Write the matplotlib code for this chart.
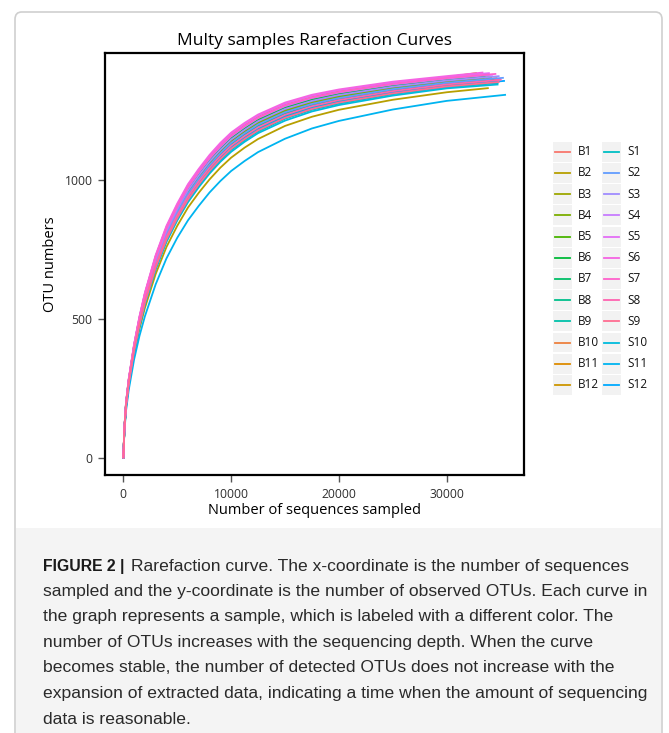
import numpy as np
import matplotlib.pyplot as plt
from matplotlib.patches import Rectangle, FancyBboxPatch
from matplotlib.lines import Line2D

# sequencing depth grid shared by all curves (last point is per-sample)
seq_grid = [0, 100, 250, 500, 1000, 1500, 2000, 3000, 4000, 5000, 6000, 7000,
            8000, 9000, 10000, 11250, 12500, 15000, 17500, 20000, 25000, 30000]

otu_b1 = [0, 106, 191, 273, 394, 489, 570, 699, 800, 878, 946, 1000, 1050, 1092, 1129, 1164, 1195, 1239, 1270, 1291, 1323, 1346]
otu_b10 = [0, 106, 193, 275, 396, 493, 574, 704, 806, 884, 953, 1007, 1056, 1099, 1136, 1171, 1201, 1246, 1276, 1297, 1328, 1351]
otu_b11 = [0, 109, 198, 283, 407, 506, 591, 725, 829, 909, 978, 1033, 1083, 1126, 1163, 1198, 1228, 1271, 1300, 1319, 1348, 1369]
otu_b12 = [0, 105, 190, 271, 391, 486, 565, 693, 794, 872, 940, 993, 1043, 1085, 1122, 1157, 1188, 1233, 1264, 1285, 1318, 1342]
otu_b2 = [0, 100, 181, 259, 374, 465, 540, 662, 759, 835, 901, 954, 1002, 1044, 1080, 1116, 1147, 1194, 1227, 1252, 1288, 1315]
otu_b3 = [0, 107, 194, 277, 399, 496, 578, 709, 812, 890, 959, 1013, 1063, 1106, 1142, 1178, 1208, 1252, 1282, 1302, 1333, 1355]
otu_b4 = [0, 107, 193, 276, 398, 495, 576, 707, 809, 888, 956, 1011, 1060, 1103, 1140, 1175, 1205, 1249, 1279, 1300, 1331, 1353]
otu_b5 = [0, 108, 196, 280, 403, 502, 585, 717, 821, 900, 969, 1024, 1074, 1117, 1153, 1189, 1219, 1262, 1291, 1311, 1341, 1362]
otu_b6 = [0, 108, 196, 279, 402, 500, 582, 714, 817, 897, 966, 1020, 1070, 1112, 1149, 1184, 1215, 1259, 1288, 1308, 1338, 1360]
otu_b7 = [0, 106, 192, 274, 395, 490, 571, 701, 802, 881, 949, 1003, 1052, 1095, 1131, 1167, 1197, 1242, 1272, 1293, 1325, 1348]
otu_b8 = [0, 105, 190, 272, 392, 488, 568, 696, 798, 876, 943, 997, 1047, 1089, 1126, 1161, 1192, 1236, 1267, 1289, 1321, 1345]
otu_b9 = [0, 104, 189, 270, 389, 483, 563, 690, 791, 868, 936, 989, 1039, 1081, 1118, 1153, 1184, 1229, 1260, 1282, 1315, 1339]
otu_s1 = [0, 103, 187, 267, 385, 479, 557, 683, 782, 860, 927, 980, 1029, 1071, 1108, 1143, 1174, 1220, 1252, 1274, 1308, 1333]
otu_s10 = [0, 103, 185, 265, 383, 475, 553, 678, 777, 854, 920, 974, 1023, 1065, 1101, 1137, 1168, 1213, 1246, 1269, 1303, 1329]
otu_s11 = [0, 95, 170, 245, 355, 440, 510, 625, 718, 792, 855, 907, 955, 996, 1032, 1068, 1100, 1148, 1185, 1212, 1253, 1284]
otu_s12 = [0, 104, 188, 269, 388, 482, 561, 688, 788, 866, 933, 987, 1036, 1078, 1115, 1150, 1181, 1226, 1258, 1280, 1313, 1337]
otu_s2 = [0, 106, 192, 274, 395, 491, 572, 702, 803, 882, 950, 1004, 1054, 1096, 1133, 1168, 1199, 1243, 1273, 1294, 1326, 1349]
otu_s3 = [0, 107, 195, 278, 400, 497, 580, 711, 814, 893, 962, 1016, 1066, 1108, 1145, 1180, 1211, 1255, 1284, 1305, 1335, 1357]
otu_s4 = [0, 109, 197, 281, 405, 503, 587, 720, 823, 903, 972, 1027, 1077, 1119, 1156, 1191, 1222, 1265, 1294, 1314, 1343, 1364]
otu_s5 = [0, 110, 199, 284, 408, 508, 592, 727, 831, 911, 981, 1036, 1086, 1129, 1166, 1201, 1231, 1274, 1302, 1322, 1350, 1370]
otu_s6 = [0, 110, 200, 285, 410, 510, 595, 730, 835, 915, 985, 1040, 1090, 1133, 1170, 1205, 1235, 1278, 1306, 1325, 1353, 1373]
otu_s7 = [0, 109, 198, 282, 406, 504, 588, 722, 826, 905, 975, 1029, 1079, 1122, 1159, 1194, 1224, 1268, 1296, 1316, 1345, 1366]
otu_s8 = [0, 105, 190, 271, 391, 486, 566, 694, 795, 873, 941, 995, 1044, 1086, 1123, 1158, 1189, 1234, 1265, 1287, 1319, 1343]
otu_s9 = [0, 104, 187, 268, 387, 481, 559, 686, 786, 863, 930, 984, 1033, 1075, 1112, 1147, 1178, 1223, 1255, 1278, 1311, 1336]

# drawing order (alphabetical factor levels, as in the original)
samples = ['B1', 'B10', 'B11', 'B12', 'B2', 'B3', 'B4', 'B5', 'B6', 'B7', 'B8', 'B9',
           'S1', 'S10', 'S11', 'S12', 'S2', 'S3', 'S4', 'S5', 'S6', 'S7', 'S8', 'S9']
curves = [otu_b1, otu_b10, otu_b11, otu_b12, otu_b2, otu_b3, otu_b4, otu_b5, otu_b6, otu_b7, otu_b8, otu_b9,
          otu_s1, otu_s10, otu_s11, otu_s12, otu_s2, otu_s3, otu_s4, otu_s5, otu_s6, otu_s7, otu_s8, otu_s9]
end_seqs = [35000, 34700, 32800, 34500, 33900, 34200, 33500, 33900, 33600, 34400, 34100, 34800,
            34800, 34800, 35500, 35400, 35300, 34900, 34300, 34000, 33400, 34600, 35100, 34900]
end_otus = [1362, 1366, 1384, 1357, 1330, 1370, 1366, 1376, 1373, 1363, 1359, 1355,
            1348, 1343, 1306, 1356, 1367, 1373, 1378, 1384, 1386, 1381, 1360, 1352]

legend_b = ['B1', 'B2', 'B3', 'B4', 'B5', 'B6', 'B7', 'B8', 'B9', 'B10', 'B11', 'B12']
legend_s = ['S1', 'S2', 'S3', 'S4', 'S5', 'S6', 'S7', 'S8', 'S9', 'S10', 'S11', 'S12']


def hcl_hex(h, c=100, l=65):
    # ggplot2 hue_pal colours (polar Luv -> sRGB)
    hr = np.deg2rad(h)
    u, v = c * np.cos(hr), c * np.sin(hr)
    xn, yn, zn = 95.047, 100.0, 108.883
    un = 4 * xn / (xn + 15 * yn + 3 * zn)
    vn = 9 * yn / (xn + 15 * yn + 3 * zn)
    y = yn * ((l + 16) / 116) ** 3
    up, vp = u / (13 * l) + un, v / (13 * l) + vn
    x = y * 9 * up / (4 * vp)
    z = y * (12 - 3 * up - 20 * vp) / (4 * vp)
    x, y, z = x / 100, y / 100, z / 100
    rgb = np.array([3.240479 * x - 1.537150 * y - 0.498535 * z,
                    -0.969256 * x + 1.875992 * y + 0.041556 * z,
                    0.055648 * x - 0.204043 * y + 1.057311 * z])
    rgb = np.where(rgb <= 0.0031308, 12.92 * rgb, 1.055 * np.abs(rgb) ** (1 / 2.4) - 0.055)
    return tuple(np.clip(rgb, 0, 1))


colors = {s: hcl_hex(15 + 15 * i) for i, s in enumerate(samples)}

W, H = 669, 733
fig = plt.figure(figsize=(W / 100, H / 100), dpi=100)
fx = lambda px: px / W
fy = lambda py: 1 - py / H

# frame and caption background
fig.add_artist(FancyBboxPatch((fx(15), fy(760)), fx(647), (760 - 12) / H,
                              boxstyle='round,pad=0,rounding_size=0.01',
                              transform=fig.transFigure, facecolor='white',
                              edgecolor='#cfcfcf', lw=1.2, zorder=0))
fig.add_artist(Rectangle((fx(16), 0), fx(645), (H - 528) / H, transform=fig.transFigure,
                         facecolor='#f4f4f4', edgecolor='none', zorder=0))

ax = fig.add_axes([fx(105), fy(475), fx(524) - fx(105), fy(53) - fy(475)])
for s, ys, xe, ye in zip(samples, curves, end_seqs, end_otus):
    ax.plot(seq_grid + [xe], ys + [ye], color=colors[s], lw=1.3, solid_capstyle='butt')

ax.set_xlim(-1700, 37170)
ax.set_ylim(-60, 1456)
ax.set_xticks([0, 10000, 20000, 30000])
ax.set_yticks([0, 500, 1000])
for sp in ax.spines.values():
    sp.set_linewidth(1.6)
    sp.set_color('black')
ax.tick_params(length=5, width=1, color='#555555', labelcolor='#2e2e2e', labelsize=8.7, pad=4)
for lab in ax.get_xticklabels() + ax.get_yticklabels():
    lab.set_family('Open Sans')
ax.set_title('Multy samples Rarefaction Curves', fontsize=12.5, family='Open Sans', pad=6)
ax.set_xlabel('Number of sequences sampled', fontsize=10.5, family='Open Sans', labelpad=2)
ax.set_ylabel('OTU numbers', fontsize=10.5, family='Open Sans', labelpad=5)

# legend drawn by hand to get the grey key boxes
for col, names in enumerate([legend_b, legend_s]):
    for row, s in enumerate(names):
        x0 = 553 + col * 49
        yc = 151.7 + row * 21.2
        fig.add_artist(Rectangle((fx(x0), fy(yc + 10)), 19 / W, 20 / H, transform=fig.transFigure,
                                 facecolor='#f2f2f2', edgecolor='none'))
        fig.add_artist(Line2D([fx(x0 + 2), fx(x0 + 17)], [fy(yc), fy(yc)], transform=fig.transFigure,
                              color=colors[s], lw=1.3))
        fig.text(fx(x0 + 25), fy(yc), s, fontsize=8.5, family='Open Sans', va='center', ha='left',
                 color='#111111')

cap_font = 'Liberation Sans'
cap_size = 12.6
lines = ['Rarefaction curve. The x-coordinate is the number of sequences',
         'sampled and the y-coordinate is the number of observed OTUs. Each curve in',
         'the graph represents a sample, which is labeled with a different color. The',
         'number of OTUs increases with the sequencing depth. When the curve',
         'becomes stable, the number of detected OTUs does not increase with the',
         'expansion of extracted data, indicating a time when the amount of sequencing',
         'data is reasonable.']
fig.text(fx(43), fy(566), 'FIGURE 2 |', fontsize=11.3, family=cap_font, weight='bold',
         va='center', color='#1a1a1a')
for i, t in enumerate(lines):
    x0 = 131 if i == 0 else 43
    fig.text(fx(x0), fy(566 + i * 25.5), t, fontsize=cap_size, family=cap_font,
             va='center', color='#2a2a2a')

fig.savefig('out.png', dpi=100)
